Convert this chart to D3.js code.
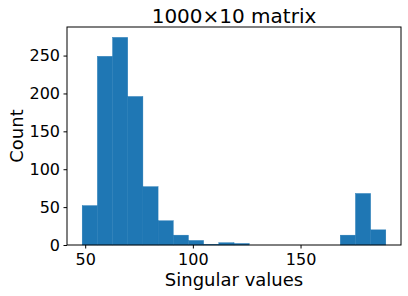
<!DOCTYPE html>
<html>
<head>
<meta charset="utf-8">
<script src="https://cdn.jsdelivr.net/npm/d3@7"></script>
<style>
  body { margin: 0; background: #fff; }
  svg { font-family: "DejaVu Sans", sans-serif; }
</style>
</head>
<body>
<svg id="chart" width="408" height="296"></svg>
<script>
// histogram bin edges (singular values) and counts per bin
var binEdges = [48.6, 55.65, 62.7, 69.75, 76.8, 83.85, 90.9, 97.95, 105.0, 112.05,
    119.1, 126.15, 133.2, 140.25, 147.3, 154.35, 161.4, 168.45, 175.5, 182.55, 189.6];
var binCounts = [52, 249, 274, 196, 77, 32, 13, 6, 1, 3,
    2, 0, 0, 0, 0, 0, 0, 13, 68, 20];
var xTicks = [50, 100, 150];
var yTicks = [0, 50, 100, 150, 200, 250];

var svg = d3.select('#chart');
var plotLeft = 67, plotRight = 401, plotTop = 27, plotBottom = 245;

var bins = binCounts.map(function (c, i) {
    return { x0: binEdges[i], x1: binEdges[i + 1], count: c };
});

var xPad = (binEdges[binEdges.length - 1] - binEdges[0]) * 0.05;
var x = d3.scaleLinear()
    .domain([binEdges[0] - xPad, binEdges[binEdges.length - 1] + xPad])
    .range([plotLeft, plotRight]);
var y = d3.scaleLinear()
    .domain([0, d3.max(binCounts) * 1.05])
    .range([plotBottom, plotTop]);

svg.append('g')
    .selectAll('rect')
    .data(bins)
    .enter()
    .append('rect')
    .attr('x', function (d) { return x(d.x0); })
    .attr('width', function (d) { return x(d.x1) - x(d.x0); })
    .attr('y', function (d) { return y(d.count); })
    .attr('height', function (d) { return y(0) - y(d.count); })
    .attr('fill', '#1f77b4')
    .attr('stroke', '#1f77b4')
    .attr('stroke-width', 0.4);

var xAxis = svg.append('g')
    .attr('transform', 'translate(0,' + plotBottom + ')')
    .call(d3.axisBottom(x).tickValues(xTicks).tickSize(3.5).tickPadding(5).tickSizeOuter(0));
var yAxis = svg.append('g')
    .attr('transform', 'translate(' + plotLeft + ',0)')
    .call(d3.axisLeft(y).tickValues(yTicks).tickSize(3.5).tickPadding(3.5).tickSizeOuter(0));

[xAxis, yAxis].forEach(function (a) {
    a.select('.domain').remove();
    a.selectAll('text')
        .attr('font-size', 16)
        .attr('font-family', 'DejaVu Sans')
        .attr('fill', '#000');
    a.selectAll('line').attr('stroke', '#000').attr('stroke-width', 1);
});

// frame
svg.append('rect')
    .attr('x', plotLeft)
    .attr('y', plotTop)
    .attr('width', plotRight - plotLeft)
    .attr('height', plotBottom - plotTop)
    .attr('fill', 'none')
    .attr('stroke', '#000')
    .attr('stroke-width', 1);

svg.append('text')
    .attr('x', (plotLeft + plotRight) / 2)
    .attr('y', 22.5)
    .attr('text-anchor', 'middle')
    .attr('font-size', 20)
    .attr('fill', '#000')
    .text('1000×10 matrix');

svg.append('text')
    .attr('x', (plotLeft + plotRight) / 2)
    .attr('y', 285.5)
    .attr('text-anchor', 'middle')
    .attr('font-size', 18)
    .attr('fill', '#000')
    .text('Singular values');

svg.append('text')
    .attr('transform', 'translate(23,' + (plotTop + plotBottom) / 2 + ') rotate(-90)')
    .attr('text-anchor', 'middle')
    .attr('font-size', 18)
    .attr('fill', '#000')
    .text('Count');
</script>
</body>
</html>
